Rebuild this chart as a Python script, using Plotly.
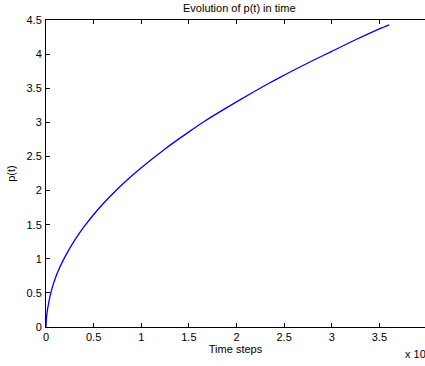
import plotly.graph_objects as go

# Time steps, in units of 1e7
time_steps_e7 = [0, 0.005, 0.021, 0.056, 0.112, 0.196, 0.3, 0.4, 0.55, 0.735, 0.88,
                 1.0, 1.25, 1.5, 1.669, 2.0, 2.35, 2.457, 2.75, 3.0, 3.25, 3.5, 3.604]
p_values = [0, 0.14, 0.3, 0.53, 0.77, 1.02, 1.27, 1.47, 1.73, 2.0, 2.19,
            2.335, 2.61, 2.86, 3.02, 3.3, 3.58, 3.66, 3.87, 4.04, 4.21, 4.37, 4.43]

x_ticks = [0, 0.5, 1, 1.5, 2, 2.5, 3, 3.5]
y_ticks = [0, 0.5, 1, 1.5, 2, 2.5, 3, 3.5, 4, 4.5]

FONT = "Liberation Sans, Arial, Helvetica, sans-serif"

fig = go.Figure()
fig.add_trace(go.Scatter(x=time_steps_e7, y=p_values, mode="lines",
                         line=dict(color="#0000ff", width=1.3, shape="spline", smoothing=0.8),
                         showlegend=False, hoverinfo="skip"))

fig.update_layout(
    width=425, height=366,
    margin=dict(l=46, r=0, t=20, b=39),
    paper_bgcolor="white", plot_bgcolor="white",
    font=dict(family=FONT, size=11, color="black"),
    title=dict(text="Evolution of p(t) in time", x=0.563, xanchor="center",
               y=0.978, yanchor="middle", font=dict(size=11, color="black")),
    xaxis=dict(range=[0, 3.979], tickvals=x_ticks, ticks="inside", ticklen=4,
               tickcolor="black", showline=True, linecolor="black", linewidth=1,
               mirror="ticks", showgrid=False, zeroline=False,
               title=dict(text="Time steps", standoff=2, font=dict(size=11)),
               tickfont=dict(size=11)),
    yaxis=dict(range=[0, 4.5], tickvals=y_ticks, ticks="inside", ticklen=4,
               tickcolor="black", showline=True, linecolor="black", linewidth=1,
               showgrid=False, zeroline=False, ticklabelstandoff=1,
               title=dict(text="p(t)", standoff=8, font=dict(size=11)),
               tickfont=dict(size=11)),
    yaxis2=dict(range=[0, 4.5], tickvals=y_ticks, overlaying="y", side="right",
                ticks="inside", ticklen=2, tickcolor="black", showline=False,
                showticklabels=False, showgrid=False, zeroline=False),
)

fig.add_annotation(text="x 10<sup>7</sup>", xref="paper", yref="paper",
                   x=0.943, y=-0.085, xanchor="left", yanchor="middle",
                   showarrow=False, font=dict(size=11, color="black"))

fig.write_html("out.html")
